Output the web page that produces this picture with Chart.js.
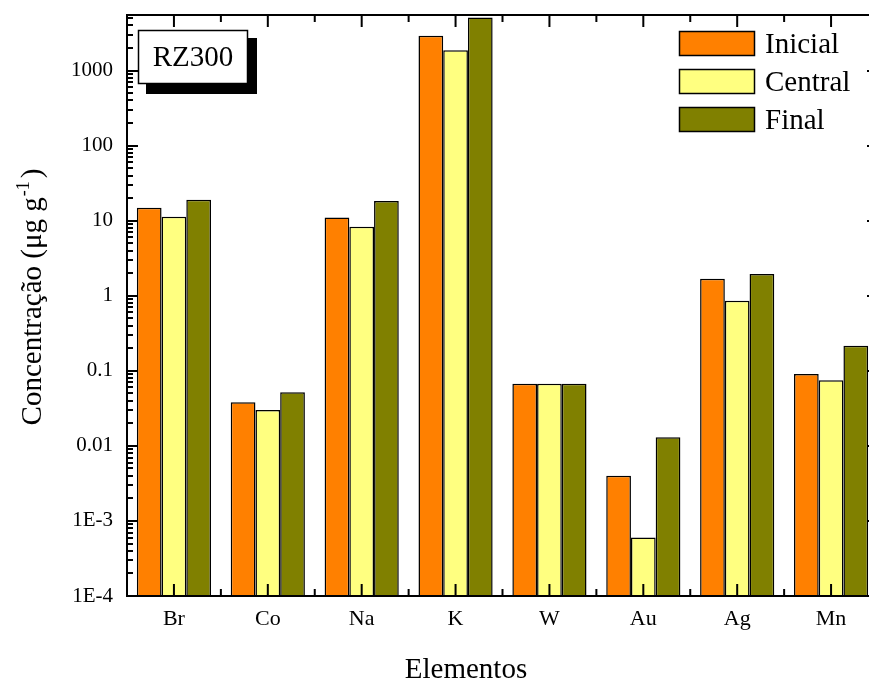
<!DOCTYPE html>
<html>
<head>
<meta charset="utf-8">
<script src="https://cdn.jsdelivr.net/npm/chart.js@4"></script>
<style>
html,body{margin:0;padding:0;background:#fff;overflow:hidden;width:869px;height:682px;}
#wrap{position:absolute;left:0;top:0;width:885px;height:682px;}
</style>
</head>
<body>
<div id="wrap"><canvas id="c" width="885" height="682"></canvas></div>
<script>
const categories = ['Br','Co','Na','K','W','Au','Ag','Mn'];
const seriesNames = ['Inicial','Central','Final'];
const inicial = [14.9, 0.038, 11.0, 2900, 0.067, 0.0040, 1.69, 0.091];
const central = [11.3, 0.030, 8.3, 1870, 0.067, 0.0006, 0.86, 0.075];
const finalV  = [19.0, 0.052, 18.3, 5100, 0.067, 0.0130, 1.95, 0.215];
const yTickValues = [1e-4, 1e-3, 1e-2, 1e-1, 1, 10, 100, 1000];
const yTickLabels = ['1E-4','1E-3','0.01','0.1','1','10','100','1000'];
const sampleLabel = 'RZ300';
const xTitle = 'Elementos';
const yTitleMain = 'Concentração (μg g';
const yTitleSup = '-1';
const yTitleEnd = ')';

const colors = ['#FF8000','#FFFF80','#808000'];
const SERIF = '"Liberation Serif","Times New Roman",serif';

const decorPlugin = {
  id:'decor',
  afterDraw(chart){
    const ctx = chart.ctx;
    const a = chart.chartArea;
    const ys = chart.scales.y, xs = chart.scales.x;
    ctx.save();
    ctx.strokeStyle = '#000';
    ctx.lineWidth = 2;
    ctx.strokeRect(a.left, a.top, a.right - a.left, a.bottom - a.top);
    ctx.beginPath();
    for (let e = -4; e <= 3; e++) {
      for (let m = 1; m <= 9; m++) {
        const v = m * Math.pow(10, e);
        if (v > ys.max) continue;
        const py = Math.round(ys.getPixelForValue(v));
        const len = m === 1 ? 11 : 6;
        ctx.moveTo(a.left, py); ctx.lineTo(a.left + len, py);
        ctx.moveTo(a.right, py); ctx.lineTo(a.right - len, py);
      }
    }
    const n = categories.length;
    const step = (a.right - a.left) / n;
    for (let i = 0; i < n; i++) {
      const cx = xs.getPixelForValue(i);
      ctx.moveTo(cx, a.bottom); ctx.lineTo(cx, a.bottom - 12);
      ctx.moveTo(cx, a.top); ctx.lineTo(cx, a.top + 12);
      if (i > 0) {
        const bx = cx - step / 2;
        ctx.moveTo(bx, a.bottom); ctx.lineTo(bx, a.bottom - 7);
        ctx.moveTo(bx, a.top); ctx.lineTo(bx, a.top + 7);
      }
    }
    ctx.stroke();

    ctx.fillStyle = '#000';
    ctx.fillRect(146, 38, 111, 56);
    ctx.fillStyle = '#fff';
    ctx.fillRect(138, 30, 110, 54);
    ctx.lineWidth = 1.5;
    ctx.strokeRect(138.5, 30.5, 109, 53);
    ctx.fillStyle = '#000';
    ctx.font = '29px ' + SERIF;
    ctx.textAlign = 'center';
    ctx.textBaseline = 'middle';
    ctx.fillText(sampleLabel, 193, 58);

    ctx.textAlign = 'left';
    ctx.font = '29px ' + SERIF;
    chart.data.datasets.forEach((ds, i) => {
      const top = 31 + i * 38;
      ctx.fillStyle = ds.backgroundColor;
      ctx.fillRect(679, top, 76, 25);
      ctx.lineWidth = 1.5;
      ctx.strokeStyle = '#000';
      ctx.strokeRect(679.5, top + 0.5, 75, 24);
      ctx.fillStyle = '#000';
      ctx.fillText(ds.label, 765, top + 14);
    });

    ctx.textAlign = 'center';
    ctx.font = '29px ' + SERIF;
    ctx.fillText(xTitle, 466, 670);

    ctx.translate(31, 297);
    ctx.rotate(-Math.PI / 2);
    ctx.font = '29px ' + SERIF;
    const w1 = ctx.measureText(yTitleMain).width;
    ctx.font = '18px ' + SERIF;
    const w2 = ctx.measureText(yTitleSup).width;
    ctx.font = '29px ' + SERIF;
    const w3 = ctx.measureText(yTitleEnd).width;
    const total = w1 + w2 + w3 + 4;
    let x0 = -total / 2;
    ctx.textAlign = 'left';
    ctx.textBaseline = 'alphabetic';
    ctx.fillText(yTitleMain, x0, 10);
    ctx.font = '18px ' + SERIF;
    ctx.fillText(yTitleSup, x0 + w1 + 1, -2);
    ctx.font = '29px ' + SERIF;
    ctx.fillText(yTitleEnd, x0 + w1 + w2 + 4, 10);
    ctx.restore();
  }
};

const mk = (label, data, color) => ({
  label, data, backgroundColor: color, borderColor: '#000', borderWidth: 1.5,
  borderSkipped: 'bottom', categoryPercentage: 0.79, barPercentage: 1.0
});

new Chart(document.getElementById('c'), {
  type: 'bar',
  data: {
    labels: categories,
    datasets: [
      mk(seriesNames[0], inicial, colors[0]),
      mk(seriesNames[1], central, colors[1]),
      mk(seriesNames[2], finalV, colors[2])
    ]
  },
  options: {
    responsive: false,
    devicePixelRatio: 1,
    animation: false,
    layout: { padding: { left: 0, right: 7, top: 15, bottom: 0 } },
    plugins: { legend: { display: false }, tooltip: { enabled: false } },
    scales: {
      x: {
        type: 'category',
        offset: true,
        grid: { display: false, drawTicks: false },
        border: { display: false },
        ticks: { color: '#000', font: { family: SERIF, size: 22 }, padding: 10, maxRotation: 0 },
        afterFit: s => { s.height = 86; s.paddingLeft = 0; s.paddingRight = 0; }
      },
      y: {
        type: 'logarithmic',
        min: 1e-4,
        max: 5500,
        grid: { display: false, drawTicks: false },
        border: { display: false },
        afterBuildTicks: s => { s.ticks = yTickValues.map(v => ({ value: v })); },
        ticks: {
          color: '#000', font: { family: SERIF, size: 21 }, padding: 14,
          callback: (v) => { const i = yTickValues.findIndex(t => Math.abs(Math.log10(t) - Math.log10(v)) < 1e-6); return i >= 0 ? yTickLabels[i] : ''; }
        },
        afterFit: s => { s.width = 127; s.paddingTop = 0; s.paddingBottom = 0; }
      }
    }
  },
  plugins: [decorPlugin]
});
</script>
</body>
</html>
